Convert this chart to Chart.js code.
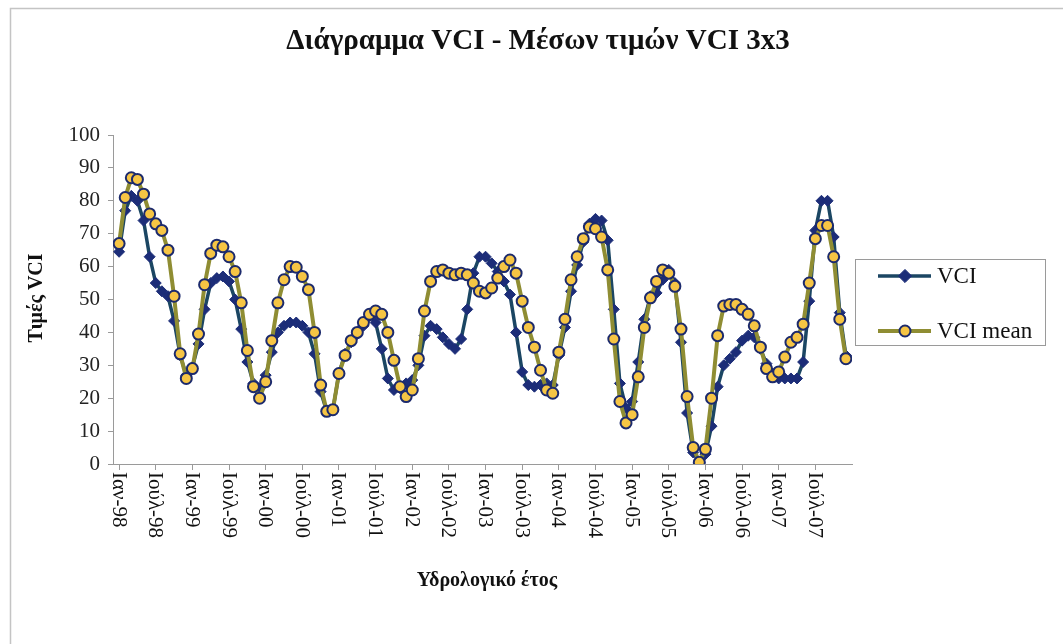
<!DOCTYPE html>
<html><head><meta charset="utf-8">
<script src="https://cdn.jsdelivr.net/npm/chart.js@4.4.0/dist/chart.umd.min.js"></script>
<style>html,body{margin:0;padding:0;background:#fff;}#wrap{position:relative;width:1063px;height:644px;}</style>
</head><body><div id="wrap"><canvas id="c" width="1063" height="644"></canvas></div>
<script>
const monthNames = ['Ιαν','Φεβ','Μαρ','Απρ','Μαϊ','Ιούν','Ιούλ','Αύγ','Σεπ','Οκτ','Νοέ','Δεκ'];
const years = ['98','99','00','01','02','03','04','05','06','07'];
const categories = years.flatMap(y => monthNames.map(m => m + '-' + y));
const tickLabels = ['Ιαν-98','Ιούλ-98','Ιαν-99','Ιούλ-99','Ιαν-00','Ιούλ-00','Ιαν-01','Ιούλ-01','Ιαν-02','Ιούλ-02',
  'Ιαν-03','Ιούλ-03','Ιαν-04','Ιούλ-04','Ιαν-05','Ιούλ-05','Ιαν-06','Ιούλ-06','Ιαν-07','Ιούλ-07'];
const yTicks = [0,10,20,30,40,50,60,70,80,90,100];

const vci = [
  64.5,77,81.5,80,74,63,55,52.5,51,43.5,33,27,
  29.5,36.5,47,55,56.5,57,55.5,50,41,31,24.5,23,
  27,34,40,42,43,43,42,40,33.5,22,16,16.5,
  27.5,33.5,37,39.5,42,45,43,35,26,22.5,23,24.5,
  25.5,30,39,42,41,38.5,36.5,35,38,47,58,63,
  63,61,58.5,55.5,51.5,40,28,24,23.5,24,24.5,24,
  33,41.5,52.5,60.5,67.5,73,74.5,74,68,47,24.5,17,
  19,31,44,51,52,56,59,55,37,15.5,3.5,0.5,
  3,11.5,23.5,30,32,34,37.5,39,38.5,35,30.5,27.5,
  26,26,26,26,31,49.5,71,80,80,69,46,33
];
const vciMean = [
  67,81,87,86.5,82,76,73,71,65,51,33.5,26,
  29,39.5,54.5,64,66.5,66,63,58.5,49,34.5,23.5,20,
  25,37.5,49,56,60,59.8,57,53,40,24,16,16.5,
  27.5,33,37.5,40,43,45.5,46.5,45.5,40,31.5,23.5,20.5,
  22.5,32,46.5,55.5,58.5,59,58,57.5,58,57.5,55,52.5,
  52,53.5,56.5,60,62,58,49.5,41.5,35.5,28.5,22.5,21.5,
  34,44,56,63,68.5,72,71.5,69,59,38,19,12.5,
  15,26.5,41.5,50.5,55.5,59,58,54,41,20.5,5,0.5,
  4.5,20,39,48,48.5,48.5,47,45.5,42,35.5,29,26.5,
  28,32.5,37,38.5,42.5,55,68.5,72.5,72.5,63,44,32
];

const tickIdx = tickLabels.map(l => categories.indexOf(l));
const SERIF = '"Liberation Serif","Times New Roman",serif';

const decor = {
  id: 'decor',
  beforeDraw(chart) {
    const ctx = chart.ctx;
    ctx.save();
    ctx.strokeStyle = '#c4c4c4';
    ctx.lineWidth = 1.5;
    ctx.beginPath();
    ctx.moveTo(10.5, 700); ctx.lineTo(10.5, 8.5); ctx.lineTo(1100, 8.5);
    ctx.stroke();
    ctx.restore();
  },
  afterDraw(chart) {
    const ctx = chart.ctx;
    const xs = chart.scales.x;
    const area = chart.chartArea;
    ctx.save();
    ctx.fillStyle = '#111';
    // title
    ctx.font = 'bold 29px ' + SERIF;
    ctx.textAlign = 'center';
    ctx.textBaseline = 'middle';
    ctx.fillText('Διάγραμμα VCI - Μέσων τιμών VCI 3x3', 538, 42);
    // y title
    ctx.save();
    ctx.translate(37, 298);
    ctx.rotate(-Math.PI / 2);
    ctx.font = 'bold 20px ' + SERIF;
    ctx.fillText('Τιμές VCI', 0, 0);
    ctx.restore();
    // x tick labels
    ctx.font = '21px ' + SERIF;
    ctx.textAlign = 'left';
    ctx.textBaseline = 'middle';
    tickLabels.forEach((lab, k) => {
      const px = xs.getPixelForValue(tickIdx[k]);
      ctx.save();
      ctx.translate(px - 1, area.bottom + 8);
      ctx.rotate(Math.PI / 2);
      ctx.fillText(lab, 0, 0);
      ctx.restore();
    });
    // x title
    ctx.font = 'bold 20px ' + SERIF;
    ctx.textAlign = 'center';
    ctx.fillText('Υδρολογικό έτος', 487, 581);
    // legend
    const lx = 855, ly = 259, lw = 190, lh = 86;
    ctx.strokeStyle = '#9a9a9a';
    ctx.lineWidth = 1;
    ctx.strokeRect(lx + 0.5, ly + 0.5, lw, lh);
    const rows = [276, 331];
    chart.data.datasets.forEach((ds, k) => {
      const y = rows[k];
      ctx.strokeStyle = ds.borderColor;
      ctx.lineWidth = ds.borderWidth;
      ctx.beginPath(); ctx.moveTo(878, y); ctx.lineTo(931, y); ctx.stroke();
      ctx.fillStyle = ds.pointBackgroundColor;
      ctx.strokeStyle = ds.pointBorderColor;
      ctx.lineWidth = ds.pointBorderWidth;
      ctx.beginPath();
      if (ds.pointStyle === 'circle') {
        ctx.arc(905, y, ds.pointRadius, 0, Math.PI * 2);
      } else {
        const r = ds.pointRadius * 1.2;
        ctx.moveTo(905, y - r); ctx.lineTo(905 + r, y); ctx.lineTo(905, y + r); ctx.lineTo(905 - r, y); ctx.closePath();
      }
      ctx.fill(); ctx.stroke();
      ctx.fillStyle = '#111';
      ctx.font = '23px ' + SERIF;
      ctx.textAlign = 'left';
      ctx.textBaseline = 'middle';
      ctx.fillText(ds.label, 937, y + 1);
    });
    ctx.restore();
  }
};

new Chart(document.getElementById('c'), {
  type: 'line',
  data: {
    labels: categories,
    datasets: [
      {
        label: 'VCI',
        data: vci.map((v, i) => ({x: i, y: v})),
        borderColor: '#1b4663',
        borderWidth: 3.5,
        pointStyle: 'rectRot',
        pointRadius: 5.5,
        pointBackgroundColor: '#1c2d78',
        pointBorderColor: '#1c2d78',
        pointBorderWidth: 1,
        tension: 0,
        order: 2
      },
      {
        label: 'VCI mean',
        data: vciMean.map((v, i) => ({x: i, y: v})),
        borderColor: '#8f8d33',
        borderWidth: 4,
        pointStyle: 'circle',
        pointRadius: 5.5,
        pointBackgroundColor: '#f6c544',
        pointBorderColor: '#1c2a6c',
        pointBorderWidth: 2,
        tension: 0,
        order: 1
      }
    ]
  },
  options: {
    responsive: false,
    animation: false,
    devicePixelRatio: 1,
    layout: {padding: {left: 0, top: 135, right: 211, bottom: 0}},
    plugins: {legend: {display: false}, title: {display: false}, tooltip: {enabled: false}},
    scales: {
      x: {
        type: 'linear',
        min: -1,
        max: 120,
        afterBuildTicks: s => { s.ticks = tickIdx.map(v => ({value: v})); },
        afterFit: s => { s.height = 180; },
        ticks: {display: false},
        grid: {drawOnChartArea: false, drawTicks: true, tickLength: 6, color: '#9a9a9a'},
        border: {color: '#9a9a9a', width: 1}
      },
      y: {
        min: 0,
        max: 100,
        afterBuildTicks: s => { s.ticks = yTicks.map(v => ({value: v})); },
        afterFit: s => { s.width = 113; },
        ticks: {font: {family: SERIF, size: 21}, color: '#222', padding: 8},
        grid: {drawOnChartArea: false, tickLength: 5, color: '#9a9a9a'},
        border: {color: '#9a9a9a', width: 1}
      }
    }
  },
  plugins: [decor]
});
</script>
</body></html>
